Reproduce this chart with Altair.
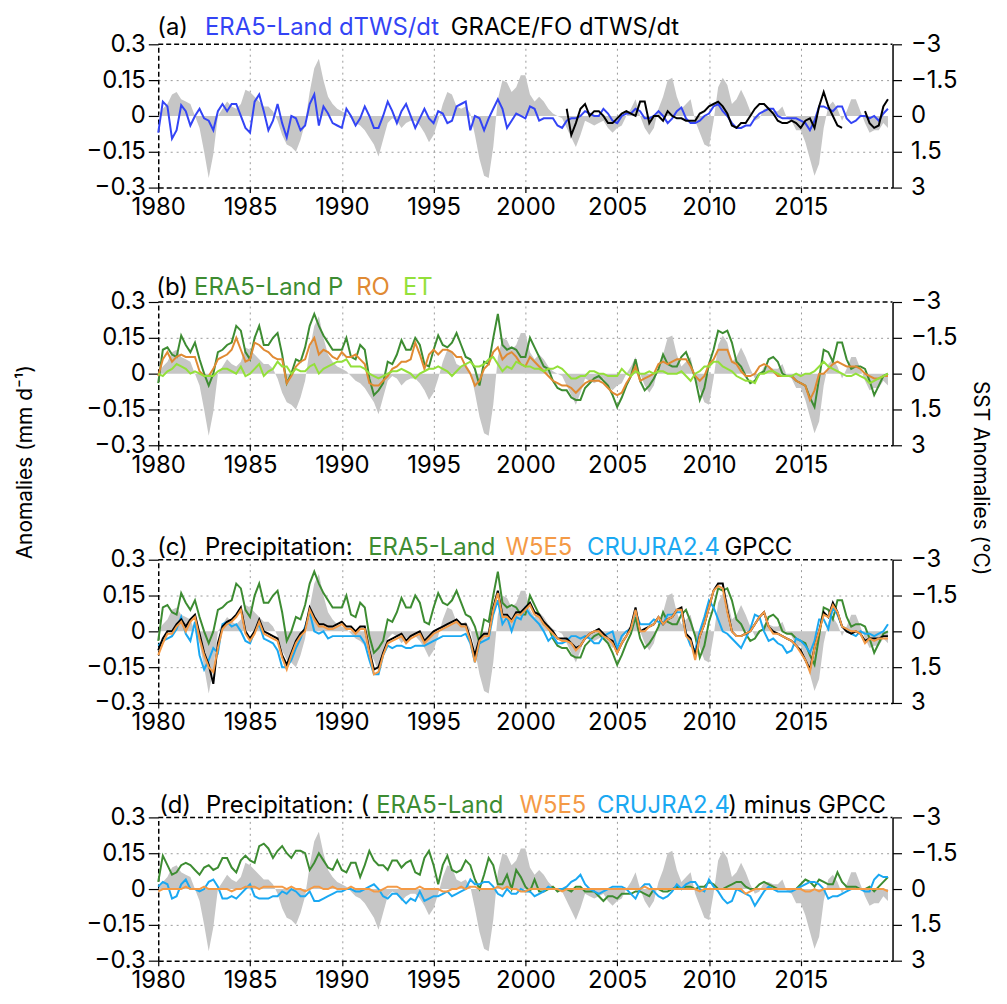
import altair as alt
import pandas as pd

# ---------------- data (quarterly, first value = 1980 Q1) ----------------
START = 1980.0
STEP = 0.25

# Nino-type SST anomalies (deg C), drawn on the reversed right axis
sst = [
    0.0, -0.3, -0.5, -0.9,   -1.0, -0.7, -0.6, -0.5,   0.0, 0.5, 1.5, 2.6,    1.6, 0.0, -0.3, -0.6,
    -0.4, -0.3, -0.5, -1.1,  -1.0, -0.8, -0.6, -0.4,   -0.4, -0.2, 0.2, 0.8,  1.2, 1.3, 1.5, 1.0,
    0.3, -1.0, -2.0, -2.4,   -1.5, -0.8, -0.5, -0.3,   -0.2, -0.1, 0.1, 0.3,  0.4, 0.6, 0.9, 1.2,
    1.7, 1.0, 0.3, 0.1,      0.2, 0.5, 0.3, 0.2,       0.2, 0.4, 0.7, 1.1,    0.8, 0.2, -0.5, -1.0,
    -0.9, -0.4, -0.3, -0.4,  -0.1, 0.8, 1.8, 2.5,      2.6, 1.3, -0.7, -1.5,  -1.4, -1.0, -1.2, -1.7,
    -1.7, -0.9, -0.6, -0.8,  -0.6, -0.3, -0.1, 0.0,    0.1, 0.5, 0.9, 1.3,    0.8, 0.2, 0.3, 0.4,
    0.3, 0.2, 0.5, 0.7,      0.5, 0.4, 0.0, -0.3,      -0.7, 0.0, 0.5, 0.8,   0.5, -0.3, -0.8, -1.5,
    -1.6, -0.8, -0.3, -0.5,  -0.7, 0.2, 0.7, 1.2,      1.3, 0.2, -1.2, -1.6,  -1.3, -0.5, -0.7, -1.1,
    -0.7, -0.2, 0.2, 0.1,    -0.3, -0.3, -0.2, -0.2,   -0.4, 0.1, 0.2, 0.6,   0.6, 1.1, 1.8, 2.5,
    2.0, 0.5, -0.4, -0.6,    -0.3, 0.2, -0.2, -0.7,    -0.7, -0.2, 0.3, 0.7,  0.6, 0.6, 0.3, 0.5,
]

# (a) ERA5-Land dTWS/dt
era5_dtws = [
    -0.07, 0.06, 0.04, -0.095,  -0.06, 0.045, 0.02, -0.04,  0.0, 0.03, -0.01, -0.02,  -0.06, 0.02, 0.05, 0.02,
    0.05, 0.05, 0.0, -0.05,     -0.07, 0.06, 0.09, 0.02,    -0.06, -0.02, 0.05, -0.03, -0.09, 0.0, -0.01, -0.06,
    -0.04, 0.05, 0.09, -0.04,   0.04, 0.01, -0.03, -0.04,   -0.05, 0.03, 0.0, -0.04,  -0.01, 0.04, 0.0, -0.05,
    -0.05, 0.0, 0.06, 0.02,     -0.03, 0.02, 0.05, 0.0,     -0.05, -0.01, 0.03, -0.01, -0.03, 0.02, 0.01, -0.03,
    -0.02, 0.04, 0.05, 0.06,    -0.06, 0.0, -0.01, -0.06,   -0.01, 0.03, 0.07, 0.03,  -0.05, -0.02, 0.01, 0.0,
    -0.01, 0.04, 0.03, -0.02,   -0.01, -0.01, -0.01, -0.04, -0.05, -0.02, -0.01, -0.01, 0.0, 0.02, 0.01, 0.0,
    0.0, 0.03, 0.01, -0.02,     -0.03, 0.0, 0.01, 0.01,     0.03, 0.02, -0.01, -0.01, 0.0, 0.02, 0.0, -0.03,
    -0.01, 0.02, 0.035, -0.01,  -0.03, -0.03, -0.02, 0.0,   0.01, 0.04, 0.05, 0.02,   0.0, -0.03, -0.05, -0.05,
    -0.04, -0.04, -0.01, 0.01,  0.02, 0.03, 0.03, 0.0,      -0.01, -0.01, -0.01, -0.01, -0.02, -0.03, -0.06, -0.02,
    0.04, 0.04, 0.03, 0.02,     0.04, 0.04, -0.01, -0.03,   -0.02, 0.0, 0.0, -0.01,   0.0, -0.02, 0.01, 0.03,
]

# (a) GRACE/FO dTWS/dt, two records
GRACE_START = 2002.25
grace = [
    0.03, -0.08, -0.03,
    0.03, 0.05, 0.0, 0.02,     0.02, 0.0, -0.03, -0.03,   -0.01, 0.01, 0.02, 0.01,   0.0, 0.06, 0.06, -0.03,
    0.0, 0.0, -0.02, 0.02,     0.0, -0.01, -0.01, -0.02,  -0.02, -0.02, 0.01, 0.02,  0.04, 0.05, 0.06, 0.04,
    0.01, -0.04, -0.05, -0.03, -0.03, 0.0, 0.03, 0.05,    0.05, 0.03, 0.01, -0.02,   -0.03, -0.03, -0.02, -0.03,
    -0.05, -0.02, -0.01, -0.05, 0.04, 0.1, 0.04, 0.0,     -0.04, -0.05,
]
GRACEFO_START = 2018.5
gracefo = [0.02, -0.03, -0.05, -0.04, 0.04, 0.07]

# (b)/(c) ERA5-Land precipitation
era5_p = [
    -0.04, 0.1, 0.11, 0.08,   0.07, 0.16, 0.12, 0.09,   0.13, 0.06, 0.0, -0.05,   0.0, 0.09, 0.1, 0.12,
    0.13, 0.2, 0.18, 0.09,    0.06, 0.15, 0.2, 0.12,    0.12, 0.15, 0.17, 0.08,   -0.04, 0.0, 0.06, 0.05,
    0.11, 0.2, 0.25, 0.2,     0.16, 0.13, 0.1, 0.1,     0.1, 0.15, 0.07, 0.06,    0.12, 0.1, -0.02, -0.09,
    -0.07, -0.04, 0.05, 0.04, 0.08, 0.14, 0.1, 0.1,     0.15, 0.12, 0.04, 0.03,   0.1, 0.16, 0.12, 0.11,
    0.13, 0.17, 0.12, 0.07,   0.06, 0.02, -0.05, 0.05,  0.04, 0.15, 0.25, 0.12,   0.1, 0.11, 0.1, 0.07,
    0.07, 0.15, 0.11, 0.07,   0.03, 0.02, -0.03, -0.06, -0.07, -0.07, -0.1, -0.11, -0.11, -0.06, -0.04, -0.02,
    -0.01, -0.03, -0.05, -0.09, -0.14, -0.1, -0.05, -0.01, 0.06, -0.03, -0.07, -0.05, -0.02, 0.02, 0.08, 0.04,
    0.03, 0.03, 0.07, 0.09,   0.04, -0.02, -0.11, -0.06, 0.04, 0.1, 0.18, 0.17,   0.18, 0.13, 0.05, 0.03,
    -0.01, -0.04, -0.03, 0.0, 0.01, 0.06, 0.07, 0.05,   0.0, -0.01, -0.01, -0.03,  -0.04, -0.05, -0.1, -0.14,
    -0.02, 0.1, 0.09, 0.05,   0.13, 0.13, 0.06, 0.02,   0.03, 0.03, 0.02, -0.03,  -0.09, -0.05, -0.01, 0.0,
]

# (b) ERA5-Land runoff
era5_ro = [
    -0.01, 0.06, 0.09, 0.05,  0.07, 0.08, 0.07, 0.07,   0.07, 0.01, -0.01, -0.01, 0.02, 0.06, 0.07, 0.08,
    0.1, 0.15, 0.1, 0.05,     0.06, 0.13, 0.12, 0.1,    0.09, 0.07, 0.06, 0.06,   -0.04, -0.01, 0.03, 0.05,
    0.06, 0.12, 0.15, 0.08,   0.1, 0.09, 0.07, 0.06,    0.09, 0.07, 0.07, 0.08,   0.06, 0.04, -0.04, -0.05,
    -0.05, -0.03, -0.01, 0.02, 0.03, 0.05, 0.05, 0.06,  0.13, 0.08, 0.02, 0.08,   0.1, 0.08, 0.1, 0.1,
    0.09, 0.07, 0.07, 0.03,   0.0, -0.05, -0.03, 0.02,  0.04, 0.09, 0.11, 0.06,   0.08, 0.09, 0.07, 0.04,
    0.03, 0.07, 0.05, 0.03,   0.01, -0.01, -0.03, -0.04, -0.05, -0.05, -0.06, -0.08, -0.06, -0.04, -0.03, -0.03,
    -0.03, -0.04, -0.06, -0.08, -0.09, -0.08, -0.04, -0.01, 0.03, -0.03, -0.02, -0.01, 0.0, 0.04, 0.05, 0.04,
    0.05, 0.06, 0.06, 0.06,   0.03, -0.01, -0.03, -0.01, 0.04, 0.06, 0.1, 0.1,    0.1, 0.05, 0.04, 0.01,
    -0.01, -0.01, 0.0, 0.03,  0.04, 0.03, 0.01, -0.01,  -0.01, -0.01, -0.01, -0.03, -0.04, -0.05, -0.11, -0.07,
    0.0, 0.0, 0.02, 0.04,     0.05, 0.04, 0.03, 0.03,   0.03, 0.02, 0.0, -0.01,   -0.02, -0.02, -0.01, -0.01,
]

# (b) ERA5-Land evapotranspiration
era5_et = [
    0.0, -0.01, 0.01, 0.02,   0.04, 0.03, 0.02, 0.0,    0.01, 0.0, -0.01, -0.01,  -0.01, 0.01, 0.02, 0.02,
    0.01, 0.0, 0.03, -0.01,   0.0, 0.02, 0.04, -0.01,   0.01, 0.02, 0.05, 0.03,   0.03, 0.0, 0.02, 0.01,
    0.01, 0.03, 0.04, 0.0,    0.02, 0.03, 0.04, 0.05,   0.05, 0.06, 0.03, 0.03,   0.03, 0.02, 0.0, -0.01,
    -0.02, -0.01, 0.0, 0.01,  0.01, 0.02, 0.01, 0.0,    -0.02, 0.0, 0.01, 0.02,   0.02, 0.03, 0.02, 0.01,
    -0.01, 0.01, 0.03, 0.04,  0.05, 0.03, 0.03, 0.04,   0.06, 0.07, 0.04, 0.01,   0.03, 0.02, 0.05, 0.04,
    0.03, 0.03, 0.02, 0.02,   0.01, 0.02, 0.02, 0.03,   0.02, 0.0, -0.02, -0.02,  -0.01, -0.01, 0.01, 0.01,
    0.0, 0.0, -0.01, -0.01,   -0.01, 0.02, 0.0, -0.01,  0.01, 0.0, 0.0, 0.01,     0.0, 0.01, 0.01, 0.0,
    0.0, 0.0, 0.01, -0.01,    -0.03, 0.0, 0.01, 0.03,   0.03, 0.05, 0.05, 0.03,   0.02, 0.01, -0.01, -0.02,
    -0.03, -0.03, -0.04, 0.0, 0.0, 0.01, 0.01, 0.0,     -0.01, -0.01, -0.01, 0.0, -0.01, 0.0, 0.0, 0.01,
    0.03, 0.05, 0.03, 0.02,   0.01, 0.0, -0.01, -0.01,  0.0, -0.01, -0.02, -0.04, -0.03, -0.02, -0.01, 0.0,
]

# (c) other precipitation products
w5e5_p = [
    -0.1, -0.05, -0.01, -0.01, 0.02, 0.04, 0.0, 0.04,   0.06, -0.03, -0.1, -0.15,  -0.17, -0.07, 0.01, 0.03,
    0.04, 0.06, 0.09, -0.01,  -0.04, -0.01, 0.04, -0.01, -0.02, -0.03, -0.04, -0.11, -0.16, -0.1, -0.05, -0.02,
    0.0, 0.09, 0.05, 0.02,    0.02, 0.01, 0.01, 0.02,   0.03, 0.01, 0.01, -0.01,  0.01, 0.01, -0.09, -0.18,
    -0.17, -0.1, -0.05, -0.04, -0.03, -0.02, -0.05, -0.03, -0.02, -0.01, -0.05, -0.03, -0.01, 0.0, 0.01, 0.02,
    0.03, 0.04, 0.02, 0.02,   -0.04, -0.13, -0.04, -0.02, -0.02, 0.09, 0.16, 0.06, 0.06, 0.04, 0.07, 0.07,
    0.09, 0.11, 0.07, 0.06,   0.03, 0.01, -0.01, -0.03, -0.04, -0.04, -0.05, -0.08, -0.06, -0.03, -0.01, 0.0,
    0.0, -0.02, -0.03, -0.05, -0.09, -0.05, -0.02, 0.01, 0.09, 0.0, 0.0, 0.02,    0.03, 0.06, 0.03, 0.05,
    0.06, 0.09, 0.09, -0.02,  -0.04, -0.12, -0.02, 0.03, 0.1, 0.17, 0.19, 0.18,   0.08, 0.0, -0.02, -0.02,
    -0.01, 0.0, 0.03, 0.06,   0.08, 0.02, -0.01, -0.01, -0.02, -0.03, -0.04, -0.06, -0.09, -0.12, -0.17, -0.07,
    0.0, 0.07, 0.06, 0.11,    0.08, 0.02, 0.01, 0.0,    0.0, -0.01, -0.05, -0.03, -0.04, -0.03, -0.03, -0.03,
]
crujra_p = [
    -0.06, -0.04, -0.03, -0.02, 0.01, 0.06, -0.01, -0.04, 0.04, -0.1, -0.16, -0.12, -0.07, -0.09, 0.03, 0.04,
    0.02, 0.03, 0.0, -0.04,   -0.05, 0.0, 0.03, -0.03,  -0.04, -0.05, -0.08, -0.15, -0.15, -0.12, -0.07, -0.03,
    0.02, 0.08, 0.0, -0.01,   0.0, -0.03, -0.02, -0.02, -0.02, -0.02, -0.02, -0.02, -0.02, -0.05, -0.12, -0.18,
    -0.18, -0.1, -0.06, -0.07, -0.06, -0.06, -0.07, -0.07, -0.06, -0.06, -0.06, -0.05, -0.04, -0.03, -0.02, -0.02,
    -0.02, -0.02, -0.02, -0.01, -0.05, -0.13, -0.05, -0.04, -0.03, 0.07, 0.13, 0.03, 0.06, 0.0, 0.06, 0.05,
    0.1, 0.07, 0.05, 0.03,    0.0, -0.04, -0.02, -0.05, -0.05, -0.04, -0.02, -0.02, -0.03, -0.02, -0.03, -0.05,
    -0.05, -0.02, -0.01, 0.0, -0.07, -0.02, 0.0, 0.01,  0.08, 0.03, 0.03, 0.03,   0.05, 0.04, 0.03, 0.07,
    0.07, 0.08, 0.08, -0.01,  -0.06, -0.08, 0.0, 0.06,  0.13, 0.1, 0.05, 0.0,     -0.01, -0.03, -0.05, -0.07,
    -0.03, 0.01, 0.07, 0.06,  0.0, -0.04, -0.03, -0.05, -0.06, -0.09, -0.08, -0.03, -0.04, -0.06, -0.09, -0.04,
    0.05, 0.05, 0.01, 0.1,    0.07, 0.02, 0.01, -0.01,  -0.02, 0.0, -0.01, -0.01, -0.02, -0.01, 0.0, 0.03,
]
gpcc_p = [
    -0.08, -0.03, 0.0, 0.0,   0.03, 0.05, 0.02, 0.05,   0.07, -0.01, -0.09, -0.14, -0.22, -0.05, 0.02, 0.04,
    0.05, 0.07, 0.1, 0.0,     -0.03, 0.0, 0.05, 0.0,    -0.01, -0.02, -0.03, -0.1, -0.14, -0.09, -0.04, -0.01,
    0.01, 0.1, 0.06, 0.03,    0.03, 0.02, 0.02, 0.03,   0.04, 0.02, 0.02, 0.0,    0.02, 0.02, -0.08, -0.16,
    -0.15, -0.09, -0.04, -0.03, -0.02, -0.01, -0.04, -0.02, -0.01, 0.0, -0.04, -0.02, 0.0, 0.01, 0.02, 0.03,
    0.04, 0.05, 0.03, 0.03,   -0.03, -0.1, -0.03, -0.01, -0.01, 0.1, 0.17, 0.07,  0.07, 0.045, 0.08, 0.08,
    0.1, 0.12, 0.08, 0.07,    0.04, 0.02, 0.0, -0.03,   -0.03, -0.03, -0.05, -0.07, -0.06, -0.03, -0.01, 0.0,
    0.01, -0.01, -0.03, -0.04, -0.09, -0.05, -0.02, 0.02, 0.1, 0.0, 0.01, 0.02,   0.03, 0.06, 0.03, 0.05,
    0.06, 0.09, 0.1, -0.01,   -0.03, -0.1, -0.02, 0.03, 0.1, 0.17, 0.2, 0.2,      0.09, 0.0, -0.02, -0.02,
    -0.01, 0.0, 0.03, 0.06,   0.08, 0.02, 0.0, -0.01,   -0.02, -0.03, -0.04, -0.06, -0.08, -0.12, -0.16, -0.07,
    0.0, 0.08, 0.06, 0.12,    0.08, 0.02, 0.0, -0.01,   0.0, -0.01, -0.04, -0.03,  -0.03, -0.03, -0.02, -0.02,
]

# (d) differences from GPCC
d_era5 = [
    0.03, 0.14, 0.1, 0.06,    0.07, 0.1, 0.11, 0.1,     0.08, 0.06, 0.09, 0.1,    0.08, 0.09, 0.13, 0.13,
    0.09, 0.07, 0.12, 0.14,   0.12, 0.11, 0.18, 0.19,   0.17, 0.13, 0.16, 0.18,   0.15, 0.13, 0.16, 0.16,
    0.15, 0.08, 0.11, 0.15,   0.12, 0.09, 0.08, 0.12,   0.08, 0.07, 0.11, 0.11,   0.05, 0.1, 0.16, 0.12,
    0.1, 0.1, 0.08, 0.12,     0.12, 0.09, 0.11, 0.12,   0.07, 0.06, 0.13, 0.16,   0.1, 0.02, 0.1, 0.14,
    0.08, 0.07, 0.08, 0.12,   0.1, 0.04, 0.0, 0.06,     0.13, 0.1, 0.02, 0.02,    0.06, 0.0, 0.08, 0.05,
    0.01, -0.01, 0.04, -0.01, -0.01, 0.0, 0.01, -0.01,  0.0, 0.0, -0.01, 0.01,    0.01, -0.01, -0.01, -0.01,
    -0.03, -0.05, -0.03, -0.03, -0.04, -0.02, -0.02, -0.02, -0.01, -0.01, -0.02, -0.03, 0.0, 0.0, -0.01, -0.01,
    0.0, 0.01, 0.0, 0.01,     0.01, 0.0, 0.01, 0.01,    0.03, 0.02, 0.0, 0.0,     0.01, 0.02, 0.03, 0.03,
    0.01, 0.0, 0.0, 0.02,     0.03, 0.02, 0.01, 0.0,    0.0, 0.0, 0.0, 0.0,       0.02, 0.04, 0.03, 0.01,
    0.04, 0.03, 0.02, 0.02,   0.07, 0.03, 0.01, 0.01,   0.01, 0.0, 0.0, 0.01,     -0.01, 0.01, 0.03, 0.05,
]
d_w5e5 = [
    -0.01, 0.0, 0.0, 0.0,     0.0, 0.0, 0.01, 0.0,      0.0, 0.0, 0.01, 0.0,      0.0, 0.0, 0.0, 0.0,
    -0.01, 0.0, 0.0, 0.01,    0.01, 0.01, 0.0, 0.01,    0.01, 0.01, 0.01, 0.01,   0.0, 0.01, 0.0, 0.0,
    -0.01, 0.0, 0.01, 0.01,   0.0, 0.0, 0.01, 0.0,      0.0, 0.0, 0.01, 0.0,      0.0, 0.0, 0.0, -0.01,
    -0.01, 0.0, 0.01, 0.01,   0.01, 0.0, 0.0, 0.0,      0.0, 0.01, 0.0, 0.0,      0.0, 0.0, -0.01, -0.01,
    0.0, 0.0, 0.01, 0.0,      0.01, 0.01, 0.0, 0.0,     0.0, 0.0, 0.01, 0.0,      0.01, 0.0, 0.0, -0.01,
    -0.01, 0.0, 0.0, 0.0,     0.0, 0.0, 0.0, 0.0,       -0.01, 0.0, 0.0, 0.0,     0.0, 0.0, 0.0, 0.0,
    0.0, 0.0, 0.0, 0.0,       0.0, 0.0, 0.0, 0.0,       0.0, 0.0, 0.01, 0.0,      0.0, 0.0, 0.0, 0.0,
    0.0, 0.0, 0.0, 0.0,       0.0, 0.0, -0.01, 0.0,     0.0, 0.0, 0.0, 0.0,       0.0, 0.0, 0.0, 0.0,
    -0.02, -0.01, 0.0, 0.0,   0.0, 0.0, 0.0, 0.0,       0.0, 0.0, 0.0, 0.0,       0.0, -0.01, -0.01, 0.0,
    -0.01, 0.0, 0.0, 0.0,     0.0, 0.0, 0.0, 0.0,       0.0, 0.0, 0.0, 0.0,       0.0, 0.0, 0.0, -0.01,
]
d_crujra = [
    0.01, 0.03, 0.02, -0.04,  -0.03, 0.02, 0.04, 0.0,   0.0, -0.01, 0.0, 0.03,    0.04, 0.01, -0.04, -0.04,
    -0.03, -0.04, -0.02, 0.0, 0.02, -0.03, -0.04, -0.04, -0.04, -0.03, -0.03, -0.01, -0.02, 0.0, -0.01, -0.03,
    -0.03, -0.01, -0.05, -0.05, -0.04, -0.03, -0.02, -0.01, -0.01, 0.0, 0.0, -0.01, -0.01, 0.0, 0.01, 0.02,
    0.0, -0.03, -0.04, -0.02, -0.02, -0.04, -0.06, -0.04, -0.05, -0.01, -0.05, -0.04, -0.03, -0.03, -0.02, -0.01,
    -0.03, -0.02, -0.01, 0.0, 0.04, 0.02, 0.02, 0.03,   0.03, 0.01, -0.02, -0.03, 0.0, -0.02, -0.02, 0.0,
    -0.01, -0.01, -0.03, -0.02, -0.01, 0.01, 0.0, 0.0,  0.0, 0.01, 0.03, 0.04,    0.06, 0.02, 0.0, -0.01,
    -0.02, -0.01, 0.0, 0.01,  0.01, 0.01, 0.0, -0.02,   -0.04, 0.0, 0.02, 0.02,   -0.01, -0.03, -0.04, -0.03,
    -0.01, 0.02, 0.0, 0.02,   0.03, 0.03, 0.0, -0.01,   0.04, 0.01, -0.01, -0.04, -0.06, -0.05, 0.0, -0.01,
    -0.02, -0.03, -0.07, -0.04, -0.01, 0.01, 0.0, -0.01, -0.01, -0.01, -0.01, 0.0, 0.01, 0.02, 0.03, 0.03,
    0.02, 0.0, -0.04, -0.03,  -0.03, -0.02, -0.01, 0.0, 0.0, 0.0, -0.01, -0.01,   0.04, 0.06, 0.05, 0.05,
]

# ---------------- styling ----------------
W, H = 738, 144
FONT = "Inter"
FS = 24
TFS = 24
C_BLUE = "#3344f5"
C_GREEN = "#3d8c32"
C_RO = "#e08a33"
C_ET = "#93e03a"
C_ORANGE = "#f49a46"
C_CYAN = "#1aa8f2"
C_GRAY = "#c6c6c6"

one = pd.DataFrame({"k": [0]})


def times(n, start=START):
    return [start + i * STEP for i in range(n)]


x_scale = alt.Scale(domain=[1980, 2020], nice=False, zero=False)
x_axis = alt.Axis(
    values=[1980, 1985, 1990, 1995, 2000, 2005, 2010, 2015], format="d", title=None,
    labelFontSize=FS, labelFont=FONT, labelColor="black", labelFlush=False, labelOverlap=False,
    labelPadding=3, tickSize=5, tickColor="black", tickWidth=1.2,
    domainColor="black", domainWidth=1.5, domainDash=[5, 3],
    grid=True, gridColor="#9a9a9a", gridDash=[2, 4], gridWidth=1,
    gridOpacity={"condition": {"test": "datum.value > 1980", "value": 1}, "value": 0},
)
y_scale = alt.Scale(domain=[-0.3, 0.3], nice=False, zero=False)
y_axis = alt.Axis(
    values=[-0.3, -0.15, 0, 0.15, 0.3], format=".2~f", orient="left", title=None,
    labelFontSize=FS, labelFont=FONT, labelColor="black", labelPadding=3,
    tickSize=10, tickColor="black", tickWidth=1.2,
    domainColor="black", domainWidth=1.5, domainDash=[5, 3],
    grid=True, gridColor="#9a9a9a", gridDash=[2, 4], gridWidth=1,
    gridOpacity={"condition": {"test": "abs(datum.value) == 0.15", "value": 1}, "value": 0},
)
sst_scale = alt.Scale(domain=[-3, 3], nice=False, zero=False, reverse=True)
sst_axis = alt.Axis(
    values=[-3, -1.5, 0, 1.5, 3], format=".1~f", orient="right", title=None,
    labelFontSize=FS, labelFont=FONT, labelColor="black", labelPadding=9,
    tickSize=9, tickColor="black", tickWidth=1.2,
    domainColor="black", domainWidth=1.5, grid=False,
)


def gray_layer():
    df = pd.DataFrame({"t": times(len(sst)), "v": sst})
    return alt.Chart(df).mark_area(color=C_GRAY, opacity=1, interpolate="linear").encode(
        x=alt.X("t:Q", scale=x_scale, axis=x_axis),
        y=alt.Y("v:Q", scale=sst_scale, axis=sst_axis),
        y2=alt.datum(0),
    )


def line(vals, color, start=START, width=2.0):
    df = pd.DataFrame({"t": times(len(vals), start), "v": vals})
    return alt.Chart(df).mark_line(color=color, strokeWidth=width).encode(
        x=alt.X("t:Q", scale=x_scale, axis=x_axis),
        y=alt.Y("v:Q", scale=y_scale, axis=y_axis),
    )


def top_border():
    return alt.Chart(one).mark_rule(color="black", strokeWidth=1.5, strokeDash=[5, 3]).encode(
        x=alt.value(0), x2=alt.value(W), y=alt.value(0)
    )


def label(txt, xpos, ypos, color="black", size=TFS, angle=0, align="left"):
    kw = dict(text=txt, color=color, fontSize=size, font=FONT, align=align)
    if angle:
        kw["angle"] = angle
        kw["baseline"] = "middle"
    else:
        kw["baseline"] = "alphabetic"
    return alt.Chart(one).mark_text(**kw).encode(x=alt.value(xpos), y=alt.value(ypos))


def panel(lines, labels):
    return alt.layer(
        gray_layer(), alt.layer(*lines), top_border(), *labels
    ).resolve_scale(y="independent").properties(width=W, height=H)


pa = panel(
    [line(era5_dtws, C_BLUE), line(grace, "black", GRACE_START), line(gracefo, "black", GRACEFO_START)],
    [label("(a)", -1, -9), label("ERA5-Land dTWS/dt", 47, -9, C_BLUE),
     label("GRACE/FO dTWS/dt", 294, -9)],
)
pb = panel(
    [line(era5_p, C_GREEN), line(era5_ro, C_RO), line(era5_et, C_ET)],
    [label("(b)", -2, -7), label("ERA5-Land P", 36, -7, C_GREEN), label("RO", 199, -7, C_RO),
     label("ET", 246, -7, C_ET),
     label("Anomalies (mm d\u207b\u00b9)", -133, 161, size=21, angle=270, align="center"),
     label("SST Anomalies (\u00b0C)", 826, 177, size=21, angle=90, align="center")],
)
pc = panel(
    [line(era5_p, C_GREEN), line(crujra_p, C_CYAN), line(gpcc_p, "black"), line(w5e5_p, C_ORANGE)],
    [label("(c)", -1, -5), label("Precipitation:", 47, -5), label("ERA5-Land", 211, -5, C_GREEN),
     label("W5E5", 349, -5, C_ORANGE), label("CRUJRA2.4", 431, -5, C_CYAN), label("GPCC", 569, -5)],
)
pd_ = panel(
    [line(d_era5, C_GREEN), line(d_crujra, C_CYAN), line(d_w5e5, C_ORANGE)],
    [label("(d)", 1, -4), label("Precipitation: (", 48, -4), label("ERA5-Land", 219, -4, C_GREEN),
     label("W5E5", 363, -4, C_ORANGE), label("CRUJRA2.4", 441, -4, C_CYAN),
     label(") minus GPCC", 573, -4)],
)

chart = alt.vconcat(pa, pb, pc, pd_, spacing=115, bounds="flush").configure_view(
    stroke=None
).properties(padding={"left": 7, "top": 6, "right": 8, "bottom": 0})

chart.save("out.html", embed_options={"renderer": "svg", "actions": False})
